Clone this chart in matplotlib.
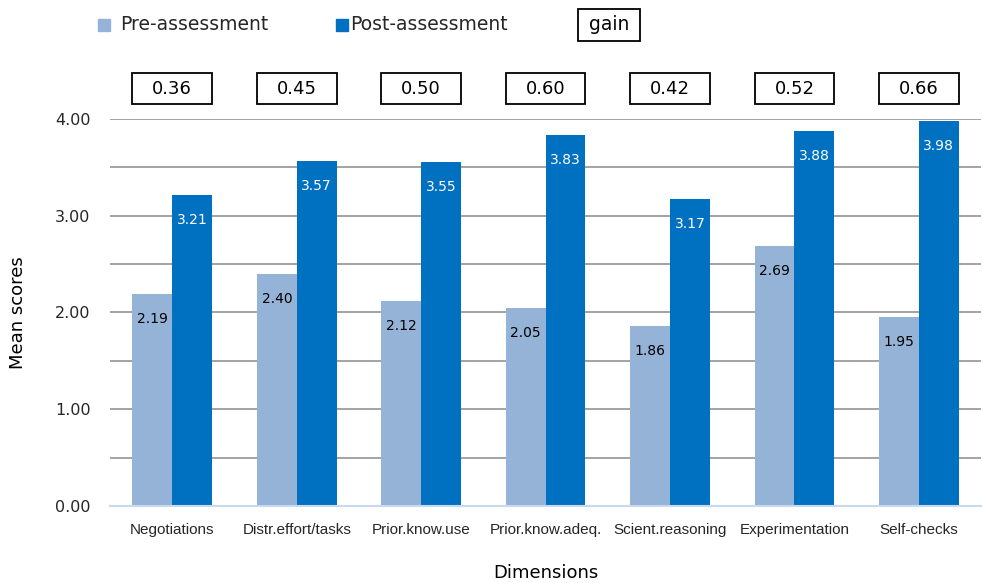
import matplotlib
matplotlib.use("Agg")
import matplotlib.pyplot as plt
import numpy as np
from matplotlib.patches import Rectangle
from matplotlib.transforms import blended_transform_factory

categories = ["Negotiations", "Distr.effort/tasks", "Prior.know.use", "Prior.know.adeq.",
              "Scient.reasoning", "Experimentation", "Self-checks"]
pre = [2.19, 2.40, 2.12, 2.05, 1.86, 2.69, 1.95]
post = [3.21, 3.57, 3.55, 3.83, 3.17, 3.88, 3.98]
gain = [0.36, 0.45, 0.50, 0.60, 0.42, 0.52, 0.66]
yticks = [0.0, 1.0, 2.0, 3.0, 4.0]

pre_color = "#95B3D7"
post_color = "#0070C0"
main_font = ["DejaVu Sans"]
cat_font = ["Liberation Sans Narrow", "Liberation Sans", "DejaVu Sans"]

fig = plt.figure(figsize=(9.83, 5.83), dpi=100)
ax = fig.add_axes([0.112, 0.132, 0.886, 0.664])

x = np.arange(len(categories))
w = 0.32
ax.bar(x - w / 2, pre, width=w, color=pre_color, zorder=3)
ax.bar(x + w / 2, post, width=w, color=post_color, zorder=3)

for xi, v in zip(x, pre):
    ax.annotate(f"{v:.2f}", (xi - w / 2, v), xytext=(0, -18), textcoords="offset points",
                ha="center", va="center", fontsize=10, color="black", family=main_font, zorder=4)
for xi, v in zip(x, post):
    ax.annotate(f"{v:.2f}", (xi + w / 2, v), xytext=(0, -18), textcoords="offset points",
                ha="center", va="center", fontsize=10, color="white", family=main_font, zorder=4)

ax.set_xlim(-0.5, len(categories) - 0.5)
ax.set_ylim(0, 4.0)
ax.set_yticks(yticks)
ax.set_yticklabels([f"{t:.2f}" for t in yticks], fontsize=11.5, color="#262626", family=main_font)
ax.set_yticks(np.arange(0, 4.01, 0.5), minor=True)
ax.grid(axis="y", which="both", color="#8a8a8a", linewidth=1.1, zorder=0)
ax.tick_params(axis="y", which="both", length=0, pad=14)
ax.tick_params(axis="x", length=0, pad=12)
ax.set_xticks(x)
ax.set_xticklabels(categories, fontsize=11, color="#262626", family=cat_font)
for s in ["top", "right", "left"]:
    ax.spines[s].set_visible(False)
ax.spines["bottom"].set_color("#c9daf0")
ax.spines["bottom"].set_linewidth(1.5)
ax.spines["bottom"].set_zorder(5)

ax.set_ylabel("Mean scores", fontsize=13, family=main_font, labelpad=20)
ax.set_xlabel("Dimensions", fontsize=13, family=main_font, labelpad=20)

# gain boxes above each category
trans = blended_transform_factory(ax.transData, fig.transFigure)
box_h = 31 / 583
box_y = 1 - 104 / 583
for xi, g in zip(x, gain):
    r = Rectangle((xi - w, box_y), 2 * w, box_h, transform=trans, fc="white", ec="black",
                  lw=1.3, clip_on=False)
    fig.patches.append(r)
    fig.text(xi, box_y + box_h / 2, f"{g:.2f}", transform=trans, fontsize=13, family=main_font,
             ha="center", va="center", color="black")

# legend
fig.patches.append(Rectangle((98 / 983, 1 - 31 / 583), 12 / 983, 12 / 583,
                             transform=fig.transFigure, color=pre_color))
fig.text(120 / 983, 1 - 24 / 583, "Pre-assessment", fontsize=13.5, va="center", ha="left",
         family=main_font, color="#262626")
fig.patches.append(Rectangle((336 / 983, 1 - 31 / 583), 12 / 983, 12 / 583,
                             transform=fig.transFigure, color=post_color))
fig.text(350 / 983, 1 - 24 / 583, "Post-assessment", fontsize=13.5, va="center", ha="left",
         family=main_font, color="#262626")
fig.patches.append(Rectangle((578 / 983, 1 - 41 / 583), 62 / 983, 32 / 583,
                             transform=fig.transFigure, fc="white", ec="black", lw=1.3))
fig.text(609 / 983, 1 - 24 / 583, "gain", fontsize=13.5, va="center", ha="center",
         family=main_font, color="black")

fig.savefig("out.png", dpi=100)
